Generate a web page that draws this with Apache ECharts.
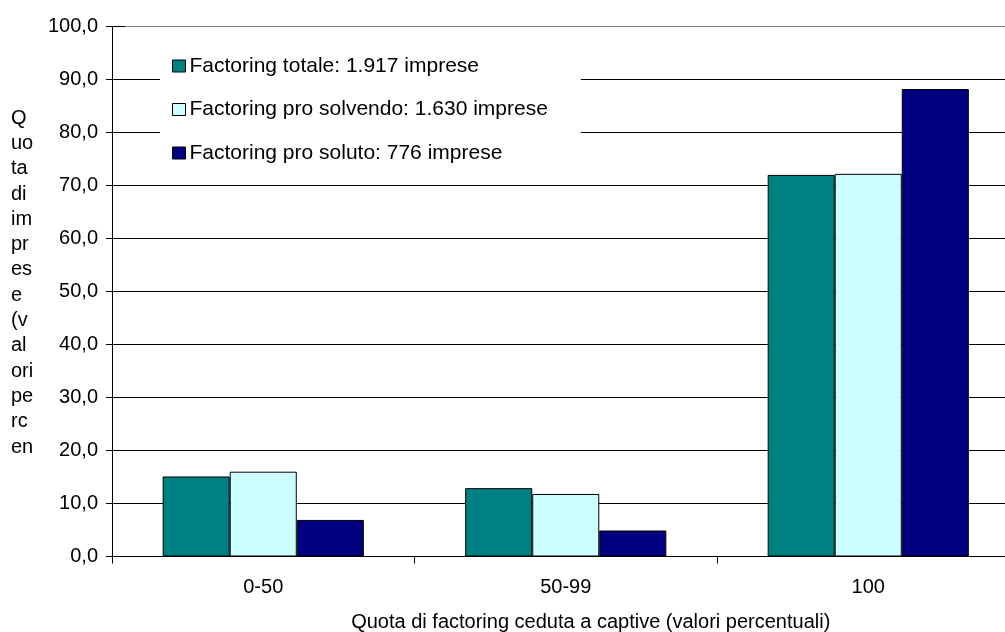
<!DOCTYPE html>
<html>
<head>
<meta charset="utf-8">
<script src="https://cdn.jsdelivr.net/npm/echarts@6/dist/echarts.min.js"></script>
<style>
html,body{margin:0;padding:0;background:#fff;}
#c{width:1005px;height:632px;}
</style>
</head>
<body>
<div id="c"></div>
<script>
var categories = ['0-50', '50-99', '100'];
var seriesNames = ['Factoring totale: 1.917 imprese', 'Factoring pro solvendo: 1.630 imprese', 'Factoring pro soluto: 776 imprese'];
var totale = [15.1, 12.9, 72.0];
var solvendo = [16.0, 11.8, 72.2];
var soluto = [6.9, 4.9, 88.2];
var yAxisTitleLines = ['Q', 'uo', 'ta', 'di', 'im', 'pr', 'es', 'e', '(v', 'al', 'ori', 'pe', 'rc', 'en'];
var xAxisTitle = 'Quota di factoring ceduta a captive (valori percentuali)';

var FONT = '"Liberation Sans", Arial, sans-serif';
var FS = 20;
var colors = ['#008080', '#CCFFFF', '#000080'];
var splitColors = [];
for (var i = 0; i < 10; i++) splitColors.push('#000');
splitColors.push('#808080');

var chart = echarts.init(document.getElementById('c'), null, {renderer: 'canvas'});
function mk(name, data, color) {
  return {
    name: name, type: 'bar', data: data,
    barGap: '0%', barCategoryGap: '33.5%',
    itemStyle: {color: color, borderColor: '#000', borderWidth: 1},
    emphasis: {disabled: true},
    animation: false
  };
}
chart.setOption({
  animation: false,
  backgroundColor: '#fff',
  textStyle: {fontFamily: FONT},
  grid: {left: 112, top: 26.5, width: 907.5, height: 530, containLabel: false, outerBoundsMode: 'none'},
  legend: {
    orient: 'vertical', left: 160, top: 43.5,
    padding: [12, 33, 12, 12],
    backgroundColor: '#fff',
    icon: 'rect',
    itemWidth: 13, itemHeight: 12, itemGap: 22.5,
    textStyle: {fontFamily: FONT, fontSize: 21, color: '#000', lineHeight: 21, padding: [0, 0, 0, -1]},
    itemStyle: {borderColor: '#000', borderWidth: 1},
    selectedMode: false,
    data: seriesNames
  },
  xAxis: {
    type: 'category', data: categories,
    axisLine: {lineStyle: {color: '#000', width: 1}},
    axisTick: {show: true, length: 7, interval: 0, lineStyle: {color: '#000'}},
    axisLabel: {fontFamily: FONT, fontSize: FS, color: '#000', margin: 21},
    name: xAxisTitle, nameLocation: 'middle', nameGap: 56,
    nameTextStyle: {fontFamily: FONT, fontSize: FS, color: '#000', padding: [0, 0, 0, 50]}
  },
  yAxis: [{
    type: 'value', min: 0, max: 100, interval: 10,
    axisLine: {show: true, lineStyle: {color: '#000', width: 1}},
    axisTick: {show: true, length: 6, lineStyle: {color: '#000'}},
    axisLabel: {fontFamily: FONT, fontSize: FS, color: '#000', margin: 14,
      formatter: function (v) { return v.toFixed(1).replace('.', ','); }},
    splitLine: {show: true, lineStyle: {color: splitColors, width: 1}}
  }, {
    type: 'value', min: 0, max: 100, interval: 10, position: 'left',
    axisLine: {show: false},
    axisTick: {show: true, inside: true, length: 13, lineStyle: {color: '#000'}},
    axisLabel: {show: false},
    splitLine: {show: false}
  }],
  graphic: [{
    type: 'text', left: 11, top: 105.5, silent: true,
    style: {text: yAxisTitleLines.join('\n'), font: FS + 'px ' + FONT, fill: '#000', lineHeight: 25.3}
  }],
  series: [mk(seriesNames[0], totale, colors[0]), mk(seriesNames[1], solvendo, colors[1]), mk(seriesNames[2], soluto, colors[2])]
});
</script>
</body>
</html>
